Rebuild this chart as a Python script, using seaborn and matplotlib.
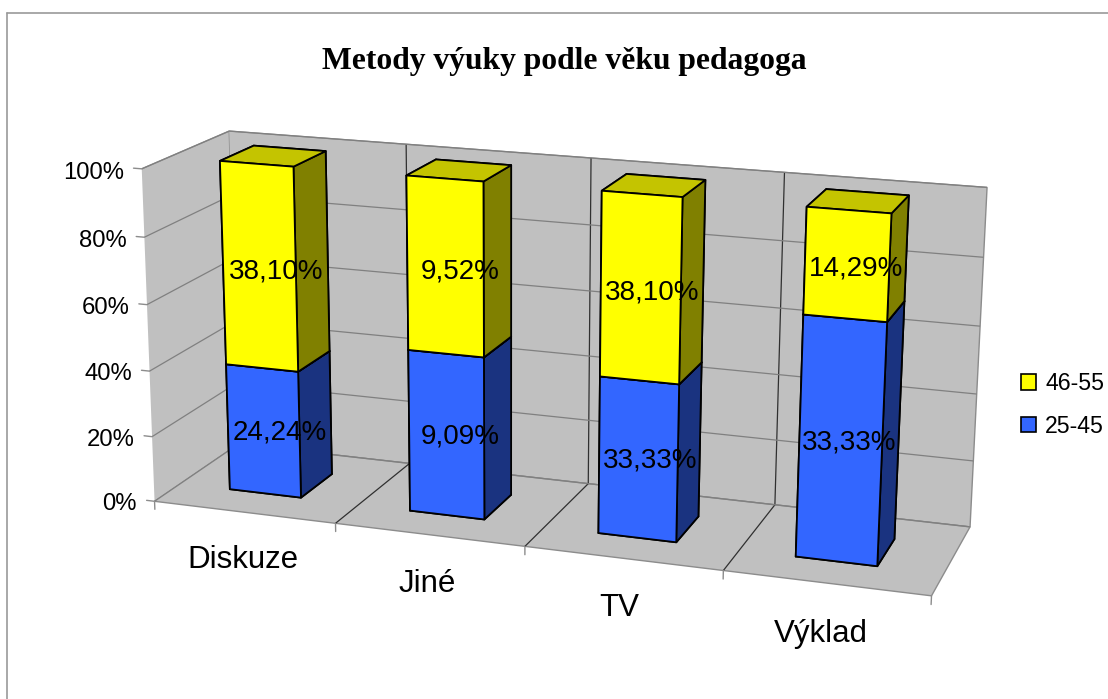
import matplotlib
matplotlib.use('Agg')
import matplotlib.pyplot as plt
import seaborn as sns
from matplotlib.lines import Line2D
from matplotlib.patches import Patch

categories = ['Diskuze', 'Jiné', 'TV', 'Výklad']
young = [24.24, 9.09, 33.33, 33.33]
old = [38.10, 9.52, 38.10, 14.29]
young_labels = ['24,24%', '9,09%', '33,33%', '33,33%']
old_labels = ['38,10%', '9,52%', '38,10%', '14,29%']
pct_ticks = [0, 20, 40, 60, 80, 100]

sns.set_style('white')
plt.rcParams['font.family'] = ['Liberation Sans', 'DejaVu Sans']
plt.rcParams['text.color'] = 'black'

W, H = 1108, 699
S = 974
fig = plt.figure(figsize=(W / 100, H / 100), dpi=100)
ax = fig.add_axes([(558.5 - 0.5135 * S) / W, (350 - 0.5135 * S) / H, S / W, S / H], projection='3d')
ax.patch.set_alpha(0)
ax.computed_zorder = False
ax.set_proj_type('persp', focal_length=0.51)
ax.view_init(elev=16, azim=-71.5, roll=-0.3)
ax.set_box_aspect((4, 1, 1.73), zoom=0.9)
ax.set_xlim(0, 4, view_margin=0)
ax.set_ylim(0, 1, view_margin=0)
ax.set_zlim(0, 100, view_margin=0)

# walls and floor
for axis in [ax.xaxis, ax.yaxis, ax.zaxis]:
    axis.set_pane_color('#c0c0c0')
    axis.pane.set_edgecolor('#8c8c8c')
    axis.line.set_color((0, 0, 0, 0))
ax.grid(True)
ax.set_xticks([1, 2, 3])
ax.set_yticks([])
ax.set_zticks(pct_ticks)
ax.set_xticklabels([])
ax.set_zticklabels([])
ax.tick_params(color=(0, 0, 0, 0))
ax.xaxis._axinfo['grid'].update(color='#303030', linewidth=0.9)
ax.zaxis._axinfo['grid'].update(color='#808080', linewidth=0.9)

# bars
bar_w = 0.4
for i in range(4):
    total = young[i] + old[i]
    low = young[i] / total * 100
    x0 = i + 0.28
    y0 = 0.3
    ax.bar3d(x0, y0, 0, bar_w, bar_w, low, shade=False, edgecolor='black', linewidth=1.3, zorder=5 + i,
             color=['#3366ff', '#2a52cc', '#3366ff', '#3366ff', '#3366ff', '#1a3380'])
    ax.bar3d(x0, y0, low, bar_w, bar_w, 100 - low, shade=False, edgecolor='black', linewidth=1.3, zorder=5.5 + i,
             color=['#ffff00', '#c4c400', '#ffff00', '#ffff00', '#ffff00', '#808000'])
    # labels sit a little under the middle of each segment
    ax.text(x0 + bar_w / 2, y0 + bar_w / 2, low / 2 - 4, young_labels[i], ha='center', va='center', fontsize=20, zorder=20)
    ax.text(x0 + bar_w / 2, y0 + bar_w / 2, low + (100 - low) / 2 - 4, old_labels[i], ha='center', va='center', fontsize=20, zorder=20)
    ax.text(i + 0.485, 0, -15, categories[i], ha='center', va='center', fontsize=22.5, zorder=20)

# axis ticks and labels
for p in pct_ticks:
    ax.plot([-0.045, 0], [0, 0], [p, p], color='#8c8c8c', lw=1, zorder=3, clip_on=False)
    ax.text(-0.1, 0, p - 1.5, str(p) + '%', ha='right', va='center', fontsize=17.2, zorder=20)
for i in range(5):
    ax.plot([i, i], [0, 0], [-2.5, 0], color='#8c8c8c', lw=1, zorder=3, clip_on=False)

fig.text(564.5 / W, 1 - 61 / H, 'Metody výuky podle věku pedagoga', family='Liberation Serif', weight='bold',
         fontsize=22.8, ha='center', va='center')

handles = [Patch(facecolor='#ffff00', edgecolor='black', linewidth=1.2),
           Patch(facecolor='#3366ff', edgecolor='black', linewidth=1.2)]
fig.legend(handles, ['46-55', '25-45'], loc='center left', bbox_to_anchor=(1021 / W, 1 - 405 / H), frameon=False,
           fontsize=16.7, handlelength=0.65, handleheight=0.65, labelspacing=0.85, handletextpad=0.4, borderpad=0, borderaxespad=0)

# outer frame of the chart area
fig.add_artist(Line2D([7 / W, 7 / W], [0, 1 - 13 / H], color='#999999', lw=1.2, transform=fig.transFigure))
fig.add_artist(Line2D([7 / W, 1], [1 - 13 / H, 1 - 13 / H], color='#999999', lw=1.2, transform=fig.transFigure))

fig.savefig('out.png', dpi=100)
